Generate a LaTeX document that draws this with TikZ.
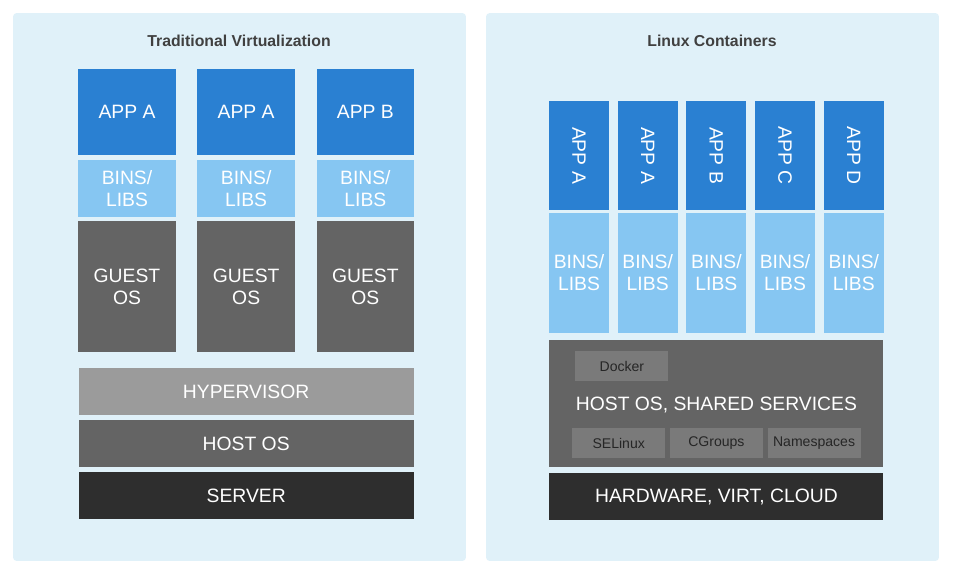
\documentclass[tikz,border=0pt]{standalone}
\usepackage{fontspec}
\setmainfont{Liberation Sans}
\usetikzlibrary{positioning}
\definecolor{panelbg}{RGB}{224,241,249}
\definecolor{appblue}{RGB}{42,128,210}
\definecolor{libsblue}{RGB}{134,198,242}
\definecolor{osgray}{RGB}{100,100,100}
\definecolor{hypgray}{RGB}{155,155,155}
\definecolor{hwgray}{RGB}{46,46,46}
\definecolor{toolgray}{RGB}{122,122,122}
\definecolor{tooltext}{RGB}{38,38,38}
\definecolor{titletext}{RGB}{64,64,64}

\begin{document}
\begin{tikzpicture}[x=0.02cm,y=0.02cm,node distance=0.08cm and 0.42cm,
 panel/.style={fill=panelbg,rounded corners=2pt,minimum width=9.06cm,minimum height=10.96cm},
 title/.style={text=titletext,font=\bfseries\fontsize{9}{11}\selectfont},
 layer/.style={inner sep=0pt,align=center,text=white,font=\fontsize{11}{12.5}\selectfont},
 app/.style={layer,fill=appblue,minimum width=1.95cm,minimum height=1.72cm},
 libs/.style={layer,fill=libsblue,minimum width=1.95cm,minimum height=1.14cm},
 guest/.style={layer,fill=osgray,minimum width=1.95cm,minimum height=2.62cm},
 wide/.style={layer,minimum width=6.7cm,minimum height=0.94cm},
 capp/.style={layer,fill=appblue,minimum width=1.2cm,minimum height=2.18cm},
 clibs/.style={layer,fill=libsblue,minimum width=1.2cm,minimum height=2.4cm},
 tool/.style={inner sep=0pt,fill=toolgray,text=tooltext,font=\fontsize{8}{9.6}\selectfont,minimum width=1.86cm,minimum height=0.6cm}]
\useasboundingbox (0,0) rectangle (956,-569);
\node[panel] (leftpanel) at (239.5,-287) {};
\node[panel] (rightpanel) at (712.5,-287) {};
\node[title] (lefttitle) at (239,-41) {Traditional Virtualization};
\node[title] (righttitle) at (712,-41) {Linux Containers};
% traditional virtualization stack
\node[app] (vmapp1) at (127,-112) {APP A};
\node[app,right=of vmapp1] (vmapp2) {APP A};
\node[app,right=of vmapp2] (vmapp3) {APP B};
\node[libs,below=of vmapp1] (vmlibs1) {BINS/\\LIBS};
\node[libs,below=of vmapp2] (vmlibs2) {BINS/\\LIBS};
\node[libs,below=of vmapp3] (vmlibs3) {BINS/\\LIBS};
\node[guest,below=of vmlibs1] (guest1) {GUEST\\OS};
\node[guest,below=of vmlibs2] (guest2) {GUEST\\OS};
\node[guest,below=of vmlibs3] (guest3) {GUEST\\OS};
\node[wide,fill=hypgray,below=0.3cm of guest2] (hypervisor) {HYPERVISOR};
\node[wide,fill=osgray,below=0.09cm of hypervisor] (hostos) {HOST OS};
\node[wide,fill=hwgray,below=0.09cm of hostos] (server) {SERVER};
% container stack
\node[capp] (ctapp1) at (579,-155.5) {\rotatebox{-90}{APP A}};
\node[capp,right=0.16cm of ctapp1] (ctapp2) {\rotatebox{-90}{APP A}};
\node[capp,right=0.16cm of ctapp2] (ctapp3) {\rotatebox{-90}{APP B}};
\node[capp,right=0.16cm of ctapp3] (ctapp4) {\rotatebox{-90}{APP C}};
\node[capp,right=0.16cm of ctapp4] (ctapp5) {\rotatebox{-90}{APP D}};
\node[clibs,below=0.04cm of ctapp1] (ctlibs1) {BINS/\\LIBS};
\node[clibs,below=0.04cm of ctapp2] (ctlibs2) {BINS/\\LIBS};
\node[clibs,below=0.04cm of ctapp3] (ctlibs3) {BINS/\\LIBS};
\node[clibs,below=0.04cm of ctapp4] (ctlibs4) {BINS/\\LIBS};
\node[clibs,below=0.04cm of ctapp5] (ctlibs5) {BINS/\\LIBS};
\node[wide,fill=osgray,minimum width=6.68cm,minimum height=2.54cm,below=0.14cm of ctlibs3] (shared) {};
\node[wide,fill=hwgray,minimum width=6.68cm,below=0.1cm of shared] (hardware) {HARDWARE, VIRT, CLOUD};
\node[tool,above=0.18cm of shared.south] (cgroups) {CGroups};
\node[tool,left=0.08cm of cgroups] (selinux) {SELinux};
\node[tool,right=0.08cm of cgroups] (namespaces) {Namespaces};
\node[layer,above=0.3cm of cgroups] (sharedlabel) {HOST OS, SHARED SERVICES};
\node[tool,anchor=north west] (docker) at ([xshift=0.52cm,yshift=-0.22cm]shared.north west) {Docker};
\end{tikzpicture}
\end{document}
